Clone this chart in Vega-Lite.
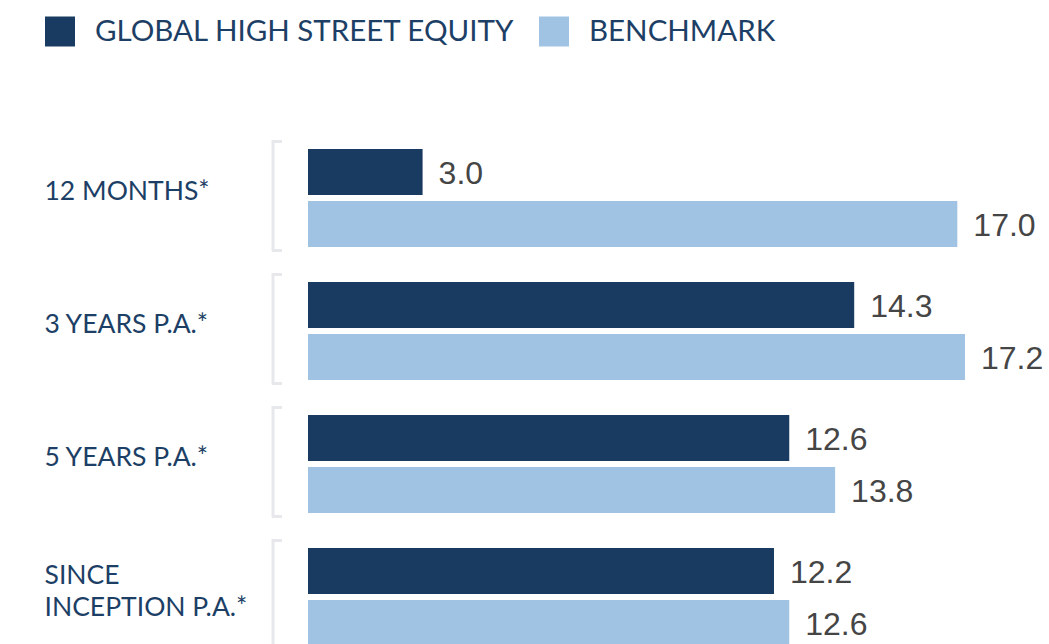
{
  "$schema": "https://vega.github.io/schema/vega-lite/v6.json",
  "width": 741,
  "height": 532,
  "autosize": {"type": "none"},
  "padding": {"left": 308, "top": 131.5, "right": 0, "bottom": 0},
  "background": "white",
  "config": {"view": {"stroke": null}},
  "data": {
    "values": [
      {"period": "12 MONTHS*", "series": "GLOBAL HIGH STREET EQUITY", "value": 3.0},
      {"period": "12 MONTHS*", "series": "BENCHMARK", "value": 17.0},
      {"period": "3 YEARS P.A.*", "series": "GLOBAL HIGH STREET EQUITY", "value": 14.3},
      {"period": "3 YEARS P.A.*", "series": "BENCHMARK", "value": 17.2},
      {"period": "5 YEARS P.A.*", "series": "GLOBAL HIGH STREET EQUITY", "value": 12.6},
      {"period": "5 YEARS P.A.*", "series": "BENCHMARK", "value": 13.8},
      {"period": "SINCE INCEPTION P.A.*", "series": "GLOBAL HIGH STREET EQUITY", "value": 12.2},
      {"period": "SINCE INCEPTION P.A.*", "series": "BENCHMARK", "value": 12.6}
    ]
  },
  "encoding": {
    "y": {
      "field": "period",
      "type": "nominal",
      "sort": null,
      "scale": {"paddingInner": 0.2632, "paddingOuter": 0.1316},
      "axis": {
        "title": null,
        "orient": "left",
        "domain": false,
        "ticks": false,
        "tickSize": 0,
        "labelAlign": "left",
        "labelPadding": 264,
        "labelBaseline": "middle",
        "labelOffset": {"condition": {"test": "datum.value == 'SINCE INCEPTION P.A.*'", "value": -21}, "value": -6},
        "labelFont": "Lato",
        "labelFontSize": 26.5,
        "labelColor": "#1d3f66",
        "labelLimit": 400,
        "labelLineHeight": 32,
        "labelExpr": "datum.label == 'SINCE INCEPTION P.A.*' ? ['SINCE', 'INCEPTION P.A.*'] : datum.label"
      }
    }
  },
  "layer": [
    {
      "mark": {"type": "bar"},
      "encoding": {
        "x": {"field": "value", "type": "quantitative", "scale": {"domain": [0, 19.4], "nice": false}, "axis": null},
        "yOffset": {"field": "series", "type": "nominal", "sort": ["GLOBAL HIGH STREET EQUITY", "BENCHMARK"], "scale": {"paddingInner": 0.1154, "paddingOuter": 0}},
        "color": {
          "field": "series",
          "type": "nominal",
          "scale": {"domain": ["GLOBAL HIGH STREET EQUITY", "BENCHMARK"], "range": ["#1a3b61", "#a0c3e4"]},
          "legend": {
            "title": null,
            "orient": "none",
            "legendX": -263,
            "legendY": -115,
            "direction": "horizontal",
            "symbolType": "square",
            "symbolSize": 900,
            "symbolStrokeWidth": 0,
            "symbolOpacity": 1,
            "labelFont": "Lato",
            "labelFontSize": 29.5,
            "labelColor": "#1d3f66",
            "labelOffset": 20,
            "labelLimit": 600,
            "columnPadding": 23,
            "padding": 0
          }
        }
      }
    },
    {
      "mark": {"type": "text", "align": "left", "baseline": "middle", "dx": 16, "dy": 2, "font": "Liberation Sans", "fontSize": 32, "color": "#454545"},
      "encoding": {
        "x": {"field": "value", "type": "quantitative"},
        "yOffset": {"field": "series", "type": "nominal", "sort": ["GLOBAL HIGH STREET EQUITY", "BENCHMARK"]},
        "text": {"field": "value", "type": "quantitative", "format": ".1f"}
      }
    },
    {
      "transform": [{"filter": "datum.series == 'BENCHMARK'"}],
      "mark": {"type": "tick", "orient": "vertical", "size": 111, "thickness": 3, "xOffset": -35, "yOffset": -2.5, "color": "#e6e8ec", "opacity": 1},
      "encoding": {"x": {"datum": 0, "type": "quantitative"}}
    },
    {
      "transform": [{"filter": "datum.series == 'BENCHMARK'"}],
      "mark": {"type": "tick", "orient": "horizontal", "size": 10, "thickness": 3, "xOffset": -31, "yOffset": -56.5, "color": "#e6e8ec", "opacity": 1},
      "encoding": {"x": {"datum": 0, "type": "quantitative"}}
    },
    {
      "transform": [{"filter": "datum.series == 'BENCHMARK'"}],
      "mark": {"type": "tick", "orient": "horizontal", "size": 10, "thickness": 3, "xOffset": -31, "yOffset": 52.5, "color": "#e6e8ec", "opacity": 1},
      "encoding": {"x": {"datum": 0, "type": "quantitative"}}
    }
  ]
}
